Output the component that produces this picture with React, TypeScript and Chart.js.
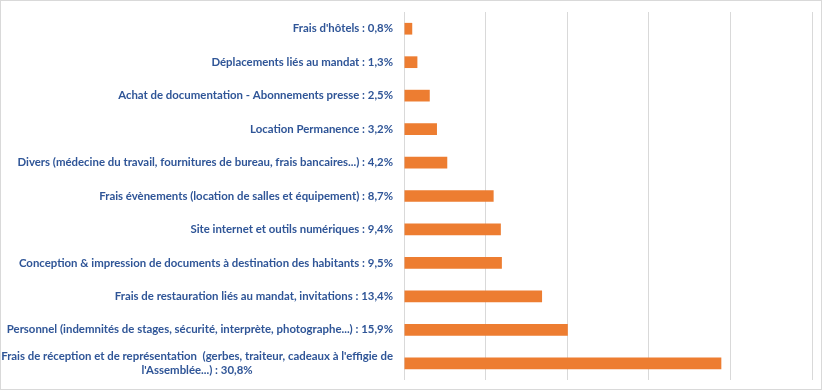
import React, { useEffect, useRef } from "react";
import { Chart, registerables } from "chart.js";
Chart.register(...registerables);

const labels: string[][] = [
  ["Frais d'hôtels : 0,8%"],
  ["Déplacements liés au mandat : 1,3%"],
  ["Achat de documentation - Abonnements presse : 2,5%"],
  ["Location Permanence : 3,2%"],
  ["Divers (médecine du travail, fournitures de bureau, frais bancaires...) : 4,2%"],
  ["Frais évènements (location de salles et équipement) : 8,7%"],
  ["Site internet et outils numériques : 9,4%"],
  ["Conception & impression de documents à destination des habitants : 9,5%"],
  ["Frais de restauration liés au mandat, invitations : 13,4%"],
  ["Personnel (indemnités de stages, sécurité, interprète, photographe...) : 15,9%"],
  ["Frais de réception et de représentation  (gerbes, traiteur, cadeaux à l'effigie de", "l'Assemblée...) : 30,8%"],
];
const values: number[] = [0.8, 1.3, 2.5, 3.2, 4.2, 8.7, 9.4, 9.5, 13.4, 15.9, 30.8];
const axisMax = 39.6;
const gridCount = 5;

const FONT_FAMILY = "Lato";
const FONT_SIZE = 11.4;
const LABEL_COLOR = "#2F5597";

const labelPlugin = {
  id: "leftLabels",
  afterDraw(chart: any) {
    const ctx = chart.ctx;
    const y = chart.scales.y;
    const right = chart.chartArea.left - 11;
    ctx.save();
    ctx.font = `bold ${FONT_SIZE}px ${FONT_FAMILY}`;
    ctx.fillStyle = LABEL_COLOR;
    ctx.textBaseline = "middle";
    labels.forEach((lines, i) => {
      const cy = y.getPixelForValue(i);
      const lh = 14;
      const widths = lines.map((l) => ctx.measureText(l).width);
      const w = Math.max(...widths);
      const top = cy - ((lines.length - 1) * lh) / 2;
      lines.forEach((l, j) => {
        if (lines.length === 1) {
          ctx.textAlign = "right";
          ctx.fillText(l, right, top + j * lh);
        } else {
          ctx.textAlign = "center";
          ctx.fillText(l, right - w / 2, top + j * lh);
        }
      });
    });
    ctx.restore();
  },
};

export default function App() {
  const ref = useRef<HTMLCanvasElement>(null);
  useEffect(() => {
    const chart = new Chart(ref.current!, {
      type: "bar",
      data: {
        labels: labels.map((l) => l.join(" ")),
        datasets: [
          {
            data: values,
            backgroundColor: "#ED7D31",
            barPercentage: 0.35,
            categoryPercentage: 1,
          },
        ],
      },
      options: {
        indexAxis: "y",
        animation: false,
        responsive: false,
        maintainAspectRatio: false,
        layout: { padding: { left: 403, top: 11, right: 9, bottom: 9 } },
        plugins: { legend: { display: false }, tooltip: { enabled: false } },
        scales: {
          x: {
            min: 0,
            max: axisMax,
            afterBuildTicks: (scale: any) => {
              const t = [];
              for (let i = 0; i <= gridCount; i++) t.push({ value: (axisMax * i) / gridCount });
              scale.ticks = t;
            },
            ticks: { display: false },
            grid: { color: "#D9D9D9", lineWidth: 1, drawTicks: false },
            border: { display: false },
          },
          y: { display: false },
        },
      },
      plugins: [labelPlugin],
    });
    return () => chart.destroy();
  }, []);
  return (
    <div style={{ position: "absolute", left: 0, top: 0, width: 822, height: 390, boxSizing: "border-box", border: "1px solid #D9D9D9", background: "#fff" }}>
      <canvas ref={ref} width={820} height={388} style={{ display: "block" }} />
    </div>
  );
}
